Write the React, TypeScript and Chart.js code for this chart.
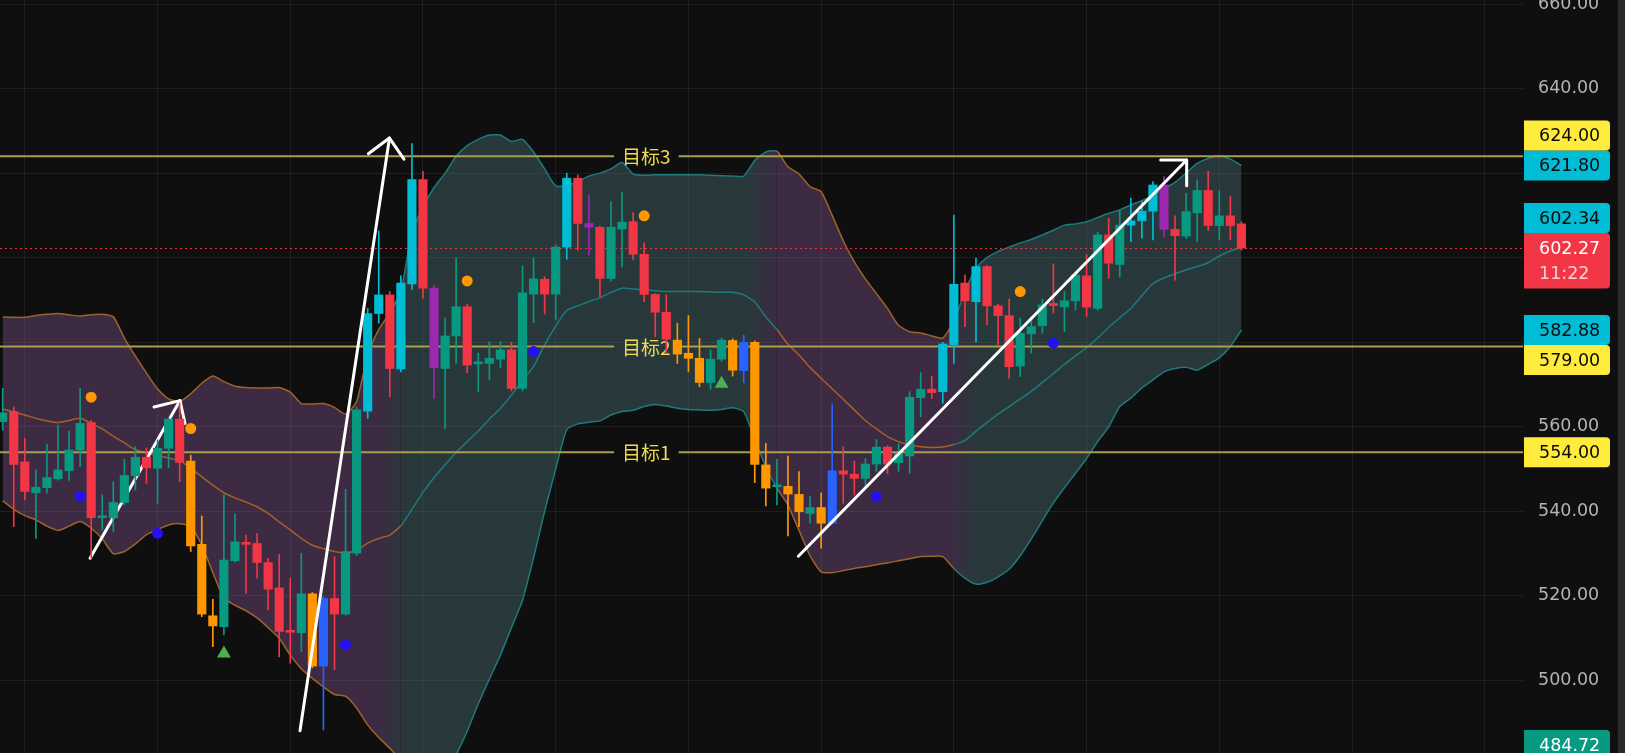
import React, { useEffect, useRef } from 'react';
import { Chart, registerables } from 'chart.js';

Chart.register(...registerables);

// ---------- candle data (one entry per bar, oldest first) ----------
const opens = [
  561.2, 563.6, 551.7, 544.4, 545.6, 547.7, 549.6, 554.5, 561.0, 538.5,
  538.5, 542.1, 548.4, 552.8, 550.2, 554.9, 561.8, 551.9, 532.2, 515.3,
  512.7, 528.3, 532.4, 532.4, 527.9, 521.9, 511.6, 511.3, 520.5, 503.4,
  519.4, 515.7, 530.1, 563.7, 586.8, 591.2, 573.7, 593.8, 618.5, 592.8,
  573.8, 581.5, 588.4, 574.9, 575.0, 576.0, 578.2, 569.1, 591.4, 594.9,
  591.4, 602.5, 618.8, 608.1, 607.2, 595.1, 606.8, 608.5, 600.8, 591.3,
  587.1, 580.5, 577.4, 576.2, 570.5, 576.0, 580.4, 573.3, 580.0, 551.0,
  545.8, 545.9, 544.0, 539.5, 540.9, 537.2, 549.6, 548.8, 547.8, 551.2,
  555.2, 551.5, 553.1, 566.9, 568.9, 568.3, 579.4, 594.0, 589.6, 597.9,
  588.6, 586.3, 574.4, 582.0, 583.9, 588.9, 588.4, 589.8, 595.7, 588.0,
  605.4, 598.4, 607.7, 608.7, 611.0, 617.2, 606.7, 605.1, 610.6, 615.9,
  607.6, 609.9, 608.0,
];
const highs = [
  569.1, 564.7, 557.3, 549.8, 555.9, 560.4, 559.0, 569.1, 561.5, 543.9,
  547.0, 552.3, 555.3, 555.0, 556.9, 562.2, 565.6, 553.3, 538.9, 519.2,
  543.9, 539.4, 534.4, 534.8, 528.9, 529.8, 524.2, 530.1, 520.8, 519.8,
  529.3, 545.2, 564.6, 588.0, 606.3, 592.0, 595.7, 627.0, 620.4, 593.5,
  585.7, 599.9, 589.0, 577.4, 580.1, 580.1, 580.0, 598.0, 599.9, 595.5,
  603.0, 620.0, 619.6, 614.8, 607.5, 613.3, 615.5, 610.7, 603.5, 591.5,
  591.2, 584.5, 586.3, 580.9, 578.2, 581.0, 580.8, 581.7, 580.3, 556.1,
  552.3, 553.1, 549.4, 543.5, 544.4, 565.4, 555.3, 551.9, 552.5, 557.0,
  555.5, 556.0, 568.3, 572.8, 572.0, 580.0, 610.1, 595.9, 599.9, 598.2,
  589.0, 590.2, 585.7, 586.0, 590.2, 598.5, 592.0, 596.2, 600.7, 606.0,
  609.3, 611.2, 614.1, 613.3, 618.0, 619.2, 609.9, 615.2, 618.4, 620.4,
  615.8, 614.6, 608.5,
];
const lows = [
  559.2, 536.4, 542.7, 533.6, 544.3, 547.4, 547.3, 550.6, 529.0, 535.6,
  535.2, 541.5, 545.0, 546.6, 541.9, 550.3, 547.0, 530.5, 515.1, 508.0,
  510.8, 528.0, 520.6, 524.2, 516.7, 505.6, 504.1, 506.8, 503.0, 488.3,
  502.6, 515.5, 529.5, 562.0, 584.5, 567.1, 573.0, 592.5, 590.4, 566.7,
  559.6, 575.0, 572.8, 568.3, 571.1, 574.0, 568.5, 568.5, 584.6, 586.7,
  585.3, 599.6, 601.8, 600.6, 590.8, 594.5, 597.8, 599.5, 589.6, 581.3,
  577.4, 575.0, 573.0, 569.5, 568.9, 575.5, 572.0, 570.4, 546.8, 541.3,
  541.5, 534.2, 536.4, 537.2, 531.3, 537.0, 541.9, 543.9, 545.5, 549.5,
  548.9, 549.5, 549.0, 562.4, 566.7, 565.6, 575.0, 583.7, 580.1, 584.1,
  579.4, 571.5, 571.9, 577.4, 582.1, 586.9, 582.5, 587.6, 586.1, 587.5,
  595.1, 595.5, 603.8, 604.6, 604.2, 605.0, 594.7, 604.5, 603.8, 606.4,
  604.2, 604.2, 601.8,
];
const closes = [
  563.3, 551.1, 544.7, 545.7, 548.0, 549.8, 554.5, 560.8, 538.5, 538.8,
  542.1, 548.5, 552.8, 550.3, 554.9, 561.8, 551.6, 531.8, 515.7, 512.9,
  528.5, 532.8, 532.2, 527.9, 521.6, 511.6, 511.4, 520.5, 503.4, 519.4,
  515.7, 530.5, 564.0, 586.8, 591.2, 573.8, 594.0, 618.5, 592.8, 574.0,
  581.5, 588.4, 574.6, 575.0, 576.2, 578.2, 569.1, 591.7, 595.0, 591.4,
  602.5, 618.8, 608.1, 607.2, 595.1, 607.2, 608.4, 600.8, 591.3, 587.1,
  580.7, 577.2, 576.2, 570.5, 576.0, 580.5, 573.4, 580.0, 551.1, 545.5,
  545.9, 544.1, 539.9, 540.9, 537.2, 549.6, 548.8, 547.8, 551.2, 555.2,
  551.2, 553.7, 567.0, 568.9, 568.1, 579.6, 593.7, 589.8, 597.9, 588.6,
  586.3, 574.2, 582.1, 583.7, 588.8, 588.7, 589.8, 595.9, 588.3, 605.4,
  598.7, 607.7, 608.7, 611.0, 617.2, 606.7, 605.2, 610.9, 615.9, 607.6,
  609.9, 607.6, 602.27,
];
// bar colour class: g=up, r=down, o=orange signal, c=cyan, b=blue, p=purple
const kinds = [
  'g','r','r','g','g','g','g','g','r','g',
  'g','g','g','r','g','g','r','o','o','o',
  'g','g','r','r','r','r','r','g','o','b',
  'r','g','g','c','c','r','c','c','r','p',
  'g','g','r','g','g','g','r','g','g','r',
  'g','c','r','p','r','g','g','r','r','r',
  'r','o','o','o','g','g','o','b','o','o',
  'g','o','o','g','o','b','r','r','g','g',
  'r','g','g','g','r','c','c','r','c','r',
  'r','r','g','g','g','r','g','g','r','g',
  'r','g','c','c','c','p','r','g','g','r',
  'g','r','r',
];

// ---------- Bollinger band values per bar ----------
const upperBand = [
  586.0, 585.9, 585.9, 586.3, 586.6, 586.8, 586.5, 586.2, 586.5, 586.6,
  586.0, 581.0, 576.7, 572.7, 569.0, 566.6, 566.0, 567.8, 570.3, 572.0,
  570.7, 569.6, 569.3, 569.2, 569.2, 569.3, 568.2, 565.5, 565.4, 565.5,
  564.6, 563.0, 566.0, 577.0, 583.0, 587.0, 592.0, 606.0, 612.0, 616.6,
  620.0, 624.0, 626.5, 628.0, 629.0, 629.0, 627.5, 628.0, 625.0, 621.0,
  617.0, 617.1, 618.0, 619.3, 620.0, 621.0, 622.5, 619.8, 619.5, 619.6,
  619.6, 619.6, 619.6, 619.6, 619.5, 619.4, 619.3, 619.3, 623.0, 625.0,
  625.2, 621.5, 619.8, 616.8, 615.6, 610.0, 604.0, 599.0, 595.0, 591.5,
  588.0, 584.0, 582.5, 582.2, 581.5, 581.0, 585.0, 592.0, 597.5, 600.0,
  601.5, 602.5, 603.5, 604.3, 605.4, 606.5, 607.7, 608.0, 608.5, 609.5,
  610.5, 611.3, 612.5, 613.5, 614.8, 616.3, 617.8, 620.0, 622.3, 623.5,
  624.1, 623.3, 621.80,
];
const middleBand = [
  564.2, 563.5, 562.8, 562.0, 561.4, 561.0, 561.5, 562.0, 560.8, 559.5,
  557.8, 556.2, 554.6, 553.8, 553.2, 552.6, 552.0, 550.2, 548.2, 546.2,
  544.4, 543.2, 542.2, 541.1, 539.5, 537.5, 535.6, 533.6, 532.0, 531.2,
  530.5, 530.1, 530.8, 532.5, 533.6, 534.4, 536.6, 540.5, 544.5, 548.0,
  551.0, 554.0, 556.5, 559.0, 561.8, 564.4, 567.5, 571.0, 574.3, 579.4,
  583.8, 587.5, 588.6, 589.6, 590.5, 591.8, 592.8, 592.6, 592.4, 592.2,
  592.0, 592.0, 592.0, 592.0, 591.9, 591.8, 591.8, 591.2, 589.5, 586.0,
  583.0, 579.5, 577.0, 574.0, 571.5, 569.0, 566.5, 564.0, 561.5, 559.5,
  557.7, 556.5, 555.7, 555.3, 555.1, 555.2, 555.8, 556.8, 559.0, 561.0,
  563.0, 564.8, 566.6, 568.4, 570.5, 572.6, 574.8, 576.8, 578.7, 581.0,
  583.5, 585.8, 588.0, 591.0, 593.9, 595.2, 596.2, 597.1, 597.9, 598.8,
  600.4, 601.6, 602.34,
];
const lowerBand = [
  542.5, 540.5, 539.0, 538.0, 536.5, 535.5, 536.5, 537.6, 536.0, 533.5,
  530.0, 530.5, 532.3, 534.5, 535.7, 536.8, 537.1, 536.4, 532.0, 525.5,
  519.5, 517.8, 516.5, 514.8, 512.5, 510.0, 506.0, 502.8, 500.5, 498.5,
  496.7, 496.3, 493.5, 489.5, 486.5, 484.0, 481.0, 478.0, 476.0, 475.5,
  478.0, 482.5, 488.0, 494.5, 500.3, 506.0, 512.5, 519.0, 529.0, 540.0,
  550.0, 559.3, 560.7, 561.1, 561.4, 562.8, 563.6, 563.9, 564.8, 565.3,
  564.9, 564.4, 564.1, 564.0, 563.9, 564.1, 564.5, 563.6, 557.0, 550.5,
  545.5, 541.5, 535.5, 529.5, 525.7, 525.5, 526.0, 526.5, 526.9, 527.4,
  527.8, 528.3, 528.8, 529.3, 529.4, 529.3, 526.5, 524.2, 522.8, 523.2,
  524.5, 526.3, 529.5, 533.5, 537.8, 542.0, 545.6, 549.0, 552.5, 556.5,
  560.0, 564.8, 566.8, 569.2, 571.1, 573.0, 573.8, 574.1, 573.4, 574.8,
  576.3, 579.0, 582.88,
];
// trend regime changes (bar index where band colours switch: down -> up -> down -> up)
const bandColorSwitchAt = [36, 70, 86];
const fillFadeRanges = [[33.9, 36.8], [67.1, 70.1], [85.5, 88.4]];

// ---------- signal markers ----------
const orangeDotIdx = [8, 17, 42, 58, 92];
const orangeDotVal = [567.0, 559.6, 594.5, 609.9, 592.0];
const blueDotIdx = [7, 14, 31, 48, 79, 95];
const blueDotVal = [543.6, 534.8, 508.4, 577.8, 543.5, 579.8];
const triangleIdx = [20, 65];
const triangleVal = [506.4, 570.2];

// ---------- drawn trend arrows [barIndex, price] ----------
const arrow1Shaft = [[7.9, 528.9], [16.03, 566.2]];
const arrow1Head = [[13.68, 564.7], [16.03, 566.2], [16.48, 560.8]];
const arrow2Shaft = [[26.88, 488.1], [34.97, 628.3]];
const arrow2Head = [[33.06, 624.6], [34.97, 628.3], [36.28, 623.3]];
const arrow3Shaft = [[71.94, 529.4], [107.05, 623.1]];
const arrow3Head = [[104.7, 623.1], [107.05, 623.1], [107.05, 617.0]];

// ---------- horizontal target levels ----------
const targetLevels = [554, 579, 624];
const targetNames = ['目标1', '目标2', '目标3'];
const targetLabelAt = 58.2;
const countdownText = '11:22';
const lowMarkerValue = 484.72;

// ---------- axis ticks ----------
const yTickStep = 20;
const xGridIdx = [2, 14, 26, 38, 50, 62, 74, 86, 98, 110, 122, 134];
const X_MIN = -0.244;
const X_MAX = 137.46;
const Y_MIN = 482.85;
const Y_MAX = 660.95;

// ---------- styles ----------
const BG = '#0f0f0f';
const KIND_COLORS: Record<string, string> = {
  g: '#089981', r: '#f23645', o: '#ff9800', c: '#00bcd4', b: '#2962ff', p: '#9c27b0',
};
const DOWN_FILL = 'rgba(160,104,180,0.31)';
const UP_FILL = 'rgba(98,152,158,0.30)';
const DOWN_LINE = 'rgb(160,98,40)';
const UP_LINE = 'rgb(30,122,126)';
const GRID = 'rgba(255,255,255,0.07)';
const AXIS_FONT = '"DejaVu Sans", sans-serif';

const lineColorFor = (i: number) => {
  let up = false;
  for (const s of bandColorSwitchAt) if (i >= s) up = !up;
  return up ? UP_LINE : DOWN_LINE;
};

function bandFill(ctx: any) {
  const chart = ctx.chart;
  const a = chart.chartArea;
  const xs = chart.scales && chart.scales.x;
  if (!a || !xs) return DOWN_FILL;
  const g = chart.ctx.createLinearGradient(a.left, 0, a.right, 0);
  const W = a.right - a.left;
  const stop = (i: number, c: string) =>
    g.addColorStop(Math.min(1, Math.max(0, (xs.getPixelForValue(i) - a.left) / W)), c);
  let up = false;
  g.addColorStop(0, DOWN_FILL);
  for (const [s, e] of fillFadeRanges) {
    stop(s, up ? UP_FILL : DOWN_FILL);
    up = !up;
    stop(e, up ? UP_FILL : DOWN_FILL);
  }
  g.addColorStop(1, up ? UP_FILL : DOWN_FILL);
  return g;
}

const pts = (arr: number[][]) => arr.map(([x, y]) => ({ x, y }));
const series = (vals: number[]) => vals.map((y, x) => ({ x, y }));

const MIDDLE_DS = 2;

function drawLevels(chart: any) {
  const { ctx, chartArea: a, scales } = chart;
  const xs = scales.x, ys = scales.y;
  ctx.save();
  ctx.beginPath();
  ctx.rect(a.left, a.top, a.right - a.left, a.bottom - a.top);
  ctx.clip();
  // last price dotted line
  const last = closes[closes.length - 1];
  const py = Math.round(ys.getPixelForValue(last)) + 0.5;
  ctx.strokeStyle = 'rgba(242,54,69,0.95)';
  ctx.lineWidth = 1;
  ctx.setLineDash([2, 3]);
  ctx.beginPath();
  ctx.moveTo(a.left, py);
  ctx.lineTo(a.right, py);
  ctx.stroke();
  ctx.setLineDash([]);
  // target lines
  ctx.font = '19px "Noto Sans CJK SC", sans-serif';
  ctx.textAlign = 'center';
  ctx.textBaseline = 'middle';
  const cx = xs.getPixelForValue(targetLabelAt);
  targetLevels.forEach((v, k) => {
    const yy = ys.getPixelForValue(v);
    const w = ctx.measureText(targetNames[k]).width;
    const gap = w / 2 + 8;
    ctx.strokeStyle = 'rgb(168,158,78)';
    ctx.lineWidth = 2;
    ctx.beginPath();
    ctx.moveTo(a.left, yy);
    ctx.lineTo(cx - gap, yy);
    ctx.moveTo(cx + gap, yy);
    ctx.lineTo(a.right, yy);
    ctx.stroke();
    ctx.fillStyle = 'rgb(240,220,84)';
    ctx.fillText(targetNames[k], cx, yy + 1);
  });
  ctx.restore();
}

function drawTags(chart: any) {
  const { ctx, chartArea: a, scales } = chart;
  const ys = scales.y;
  const left = a.right + 1;
  const W = 86, H = 30;
  const last = upperBand.length - 1;
  type Tag = { v: number; bg: string; fg: string; fixed: boolean; sub?: string; top?: number; h?: number };
  const tags: Tag[] = [
    { v: upperBand[last], bg: '#00bcd4', fg: '#0b0b0b', fixed: true },
    { v: lowerBand[last], bg: '#00bcd4', fg: '#0b0b0b', fixed: true },
    { v: closes[closes.length - 1], bg: '#f23645', fg: '#ffffff', fixed: true, sub: countdownText },
    { v: lowMarkerValue, bg: '#089981', fg: '#ffffff', fixed: true },
    { v: middleBand[last], bg: '#00bcd4', fg: '#0b0b0b', fixed: false },
    ...targetLevels.map((v) => ({ v, bg: '#ffeb3b', fg: '#0b0b0b', fixed: false })),
  ];
  const placed: Tag[] = [];
  for (const t of tags.filter((t) => t.fixed)) {
    const y = ys.getPixelForValue(t.v);
    t.top = y - H / 2;
    t.h = t.sub ? H + 25.5 : H;
    placed.push(t);
  }
  for (const t of tags.filter((t) => !t.fixed)) {
    const y = ys.getPixelForValue(t.v);
    t.top = y - H / 2;
    t.h = H;
    for (let iter = 0; iter < 10; iter++) {
      const hit = placed.find((p) => t.top! < p.top! + p.h! && t.top! + t.h! > p.top!);
      if (!hit) break;
      if (t.v > hit.v) t.top = hit.top! - t.h!;
      else t.top = hit.top! + hit.h!;
    }
    placed.push(t);
  }
  ctx.save();
  ctx.font = `17.5px ${AXIS_FONT}`;
  ctx.textAlign = 'left';
  ctx.textBaseline = 'middle';
  for (const t of placed) {
    ctx.fillStyle = t.bg;
    ctx.beginPath();
    if ((ctx as any).roundRect) (ctx as any).roundRect(left, t.top, W, t.h, [0, 4, 4, 0]);
    else ctx.rect(left, t.top!, W, t.h!);
    ctx.fill();
    ctx.fillStyle = t.fg;
    ctx.fillText(t.v.toFixed(2), left + 15, t.top! + H / 2 + 1);
    if (t.sub) {
      ctx.fillStyle = 'rgba(255,235,238,0.85)';
      ctx.fillText(t.sub, left + 15, t.top! + H / 2 + 26);
    }
  }
  // right edge strip
  ctx.fillStyle = '#2a2a2a';
  ctx.fillRect(chart.width - 7, 0, 7, chart.height);
  ctx.restore();
}

const overlayPlugin = {
  id: 'overlay',
  beforeDraw(chart: any) {
    const c = chart.ctx;
    c.save();
    c.fillStyle = BG;
    c.fillRect(0, 0, chart.width, chart.height);
    c.restore();
  },
  afterDatasetDraw(chart: any, args: any) {
    if (args.index === MIDDLE_DS) drawLevels(chart);
  },
  afterDraw(chart: any) {
    drawTags(chart);
  },
};

const noPadding = (s: any) => {
  s.paddingTop = 0;
  s.paddingBottom = 0;
  s.paddingLeft = 0;
  s.paddingRight = 0;
};

export default function App() {
  const ref = useRef<HTMLCanvasElement>(null);
  useEffect(() => {
    const canvas = ref.current;
    if (!canvas) return;
    const colors = kinds.map((k) => KIND_COLORS[k]);
    const bandLine = (vals: number[], order: number, extra: any = {}) => ({
      type: 'line',
      data: series(vals),
      borderColor: DOWN_LINE,
      borderWidth: 1.5,
      pointRadius: 0,
      tension: 0.2,
      order,
      segment: { borderColor: (c: any) => lineColorFor(c.p0DataIndex) },
      ...extra,
    });
    const arrow = (data: number[][], order: number) => ({
      type: 'line',
      data: pts(data),
      borderColor: '#ffffff',
      borderWidth: 3,
      borderCapStyle: 'round',
      borderJoinStyle: 'round',
      pointRadius: 0,
      fill: false,
      tension: 0,
      order,
    });
    const marker = (idx: number[], vals: number[], color: string, style: string, r: number) => ({
      type: 'line',
      data: idx.map((x, k) => ({ x, y: vals[k] })),
      showLine: false,
      pointStyle: style,
      pointRadius: r,
      pointBackgroundColor: color,
      pointBorderColor: color,
      pointBorderWidth: 0,
      order: 2,
    });
    const chart = new Chart(canvas, {
      type: 'bar',
      data: {
        datasets: [
          bandLine(upperBand, 12, { fill: 1, backgroundColor: bandFill }), // 0
          bandLine(lowerBand, 11), // 1
          bandLine(middleBand, 10), // 2
          arrow(arrow1Shaft, 6),
          arrow(arrow1Head, 6),
          {
            type: 'bar',
            data: closes.map((_, i) => ({ x: i, y: [lows[i], highs[i]] })),
            backgroundColor: colors,
            borderWidth: 0,
            barThickness: 1,
            grouped: false,
            order: 5,
          },
          {
            type: 'bar',
            data: closes.map((c, i) => ({ x: i, y: [opens[i], c] })),
            backgroundColor: colors,
            borderWidth: 0,
            barThickness: 8.5,
            minBarLength: 2,
            grouped: false,
            order: 4,
          },
          marker(orangeDotIdx, orangeDotVal, '#ff9800', 'circle', 5.5),
          marker(blueDotIdx, blueDotVal, '#2410f5', 'circle', 5.5),
          marker(triangleIdx, triangleVal, '#4caf50', 'triangle', 8),
          arrow(arrow2Shaft, 1),
          arrow(arrow2Head, 1),
          arrow(arrow3Shaft, 1),
          arrow(arrow3Head, 1),
        ] as any,
      },
      options: {
        responsive: false,
        devicePixelRatio: 1,
        animation: false,
        events: [],
        layout: { padding: 0, autoPadding: false } as any,
        plugins: {
          legend: { display: false },
          tooltip: { enabled: false },
          filler: { propagate: false },
        },
        scales: {
          x: {
            type: 'linear',
            min: X_MIN,
            max: X_MAX,
            offset: false,
            grid: { color: GRID, drawTicks: false, offset: false },
            border: { display: false },
            ticks: { display: false, padding: 0 },
            afterBuildTicks: (s: any) => {
              s.ticks = xGridIdx.map((v) => ({ value: v }));
            },
            afterFit: (s: any) => {
              s.height = 0;
              noPadding(s);
            },
          },
          y: {
            type: 'linear',
            position: 'right',
            min: Y_MIN,
            max: Y_MAX,
            beginAtZero: false,
            grid: { color: GRID, drawTicks: false },
            border: { display: false },
            ticks: {
              stepSize: yTickStep,
              includeBounds: false,
              padding: 15,
              color: '#b4b4b4',
              font: { family: AXIS_FONT, size: 17.5 },
              callback: (v: any) => Number(v).toFixed(2),
            },
            afterFit: (s: any) => {
              s.width = 102;
              noPadding(s);
            },
          },
        },
      } as any,
      plugins: [overlayPlugin],
    });
    return () => chart.destroy();
  }, []);
  return (
    <div style={{ position: 'fixed', left: 0, top: 0, width: 1625, height: 753, background: BG }}>
      <canvas ref={ref} width={1625} height={753} style={{ display: 'block', width: 1625, height: 753 }} />
    </div>
  );
}
